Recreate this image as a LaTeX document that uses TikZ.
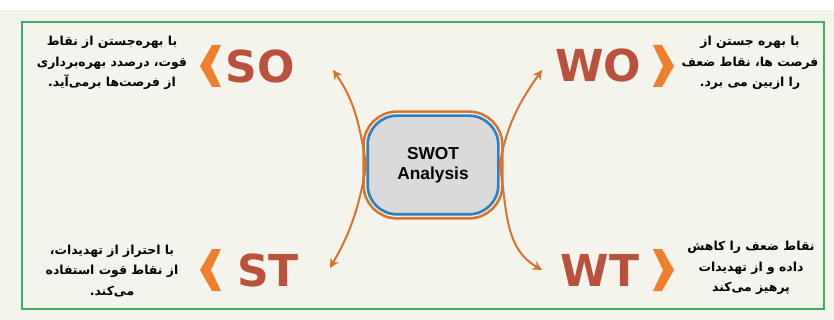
\documentclass[tikz,border=0pt]{standalone}
\usepackage{fontspec}
\usetikzlibrary{arrows.meta}
\setmainfont{DejaVu Sans}
\newfontfamily\fa[Script=Arabic]{DejaVu Sans}
\newfontfamily\boxfont{Liberation Sans}
\TeXXeTstate=1

\definecolor{bgbeige}{HTML}{F4F4EC}
\definecolor{framegreen}{HTML}{3DAE5F}
\definecolor{branchorange}{HTML}{D7732C}
\definecolor{chevorange}{HTML}{EE7F2D}
\definecolor{swotblue}{HTML}{2F80C2}
\definecolor{letterred}{HTML}{B9513C}
\definecolor{boxgray}{HTML}{DADADA}

\begin{document}
\begin{tikzpicture}[
    x=0.75pt, y=-0.75pt,
    pairlabel/.style={font=\bfseries\fontsize{33}{33}\selectfont, text=letterred, inner sep=0pt},
    farsi/.style={font=\fa\bfseries\fontsize{9.3}{15.5}\selectfont, align=center, inner sep=0pt},
    branch/.style={draw=branchorange, line width=1.5pt, -{Stealth[length=7pt,width=7pt]}},
    chev/.style={fill=chevorange},
    swotbox/.style={
        preaction={draw=branchorange, line width=8pt},
        preaction={draw=bgbeige, line width=4pt},
        draw=swotblue, line width=2pt, fill=boxgray,
        rounded corners=22pt, minimum width=98pt, minimum height=74pt,
        align=center, font=\boxfont\bfseries\fontsize{13}{15}\selectfont}
]
\useasboundingbox (0,0) rectangle (834,320);
\fill[white] (0,0) rectangle (834,320);
\fill[bgbeige] (0,10) rectangle (834,320);
\draw[framegreen, line width=2pt] (22,22) rectangle (824,309);

% centre
\node[swotbox] (swot) at (433,165) {SWOT\\Analysis};

% the four strategies
\node[pairlabel] (so) at (260,66) {SO};
\node[pairlabel] (wo) at (598,65) {WO};
\node[pairlabel] (st) at (268,270) {ST};
\node[pairlabel] (wt) at (600,270) {WT};

\coordinate (soTip) at (333,70);
\coordinate (woTip) at (542,70);
\coordinate (stTip) at (330,268);
\coordinate (wtTip) at (542,270);

\draw[branch] (swot.west) to[out=100,in=-55] (soTip);
\draw[branch] (swot.east) to[out=80,in=-125] (woTip);
\draw[branch] (swot.west) to[out=-100,in=60] (stTip);
\draw[branch] (swot.east) to[out=-80,in=150] (wtTip);

% chevrons
\foreach \y in {66,270}{
    \fill[chev] (212,\y-21) -- (221,\y-21) -- (211,\y) -- (221,\y+21) -- (212,\y+21) -- (200,\y) -- cycle;
    \fill[chev] (653,\y-21) -- (662,\y-21) -- (674,\y) -- (662,\y+21) -- (653,\y+21) -- (663,\y) -- cycle;
}

% descriptions
\node[farsi] (soText) at (112,63) {\beginR با بهره‌جستن از نقاط\endR\\ \beginR قوت، درصدد بهره‌برداری\endR\\ \beginR از فرصت‌ها برمی‌آید.\endR};
\node[farsi] (woText) at (750,63) {\beginR با بهره جستن از\endR\\ \beginR فرصت ها، نقاط ضعف\endR\\ \beginR را ازبین می برد.\endR};
\node[farsi] (stText) at (112,271) {\beginR با احتراز از تهدیدات،\endR\\ \beginR از نقاط قوت استفاده\endR\\ \beginR می‌کند.\endR};
\node[farsi] (wtText) at (751,268) {\beginR نقاط ضعف را کاهش\endR\\ \beginR داده و از تهدیدات\endR\\ \beginR پرهیز می‌کند\endR};
\end{tikzpicture}
\end{document}
